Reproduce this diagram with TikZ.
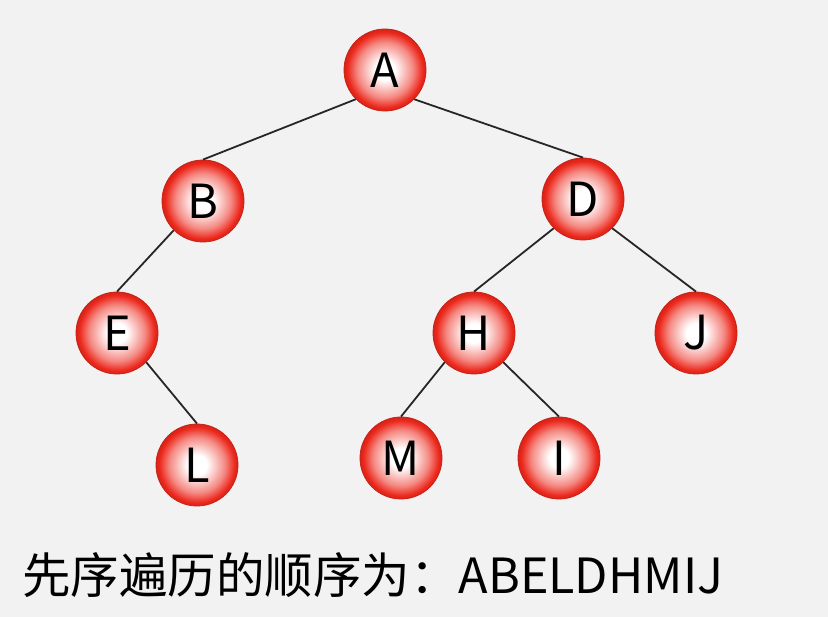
\documentclass[tikz,border=0pt]{standalone}
\usepackage{fontspec}
\setmainfont{Noto Sans CJK SC}
\definecolor{ballred}{RGB}{236,40,28}
\definecolor{bgray}{RGB}{242,242,242}
\pgfdeclareradialshading{ball}{\pgfpoint{0bp}{0bp}}{color(0bp)=(white); color(6bp)=(white); color(17bp)=(ballred!55!white); color(23bp)=(ballred); color(25bp)=(ballred!90!black); color(50bp)=(ballred!90!black)}
\tikzstyle{vertex} = [circle, minimum size=82pt, inner sep=0pt, shading=ball, draw=ballred!85!black, line width=0.8pt, font={\fontsize{47pt}{47pt}\selectfont}]
\tikzstyle{branch} = [black!85, line width=1.8pt]

\begin{document}
\begin{tikzpicture}[x=1pt,y=-1pt]
    \fill[bgray] (0,0) rectangle (828,617);
    \useasboundingbox (0,0) rectangle (828,617);
    \node[vertex](A) at (385,70){A};
    \node[vertex](B) at (203,201){B};
    \node[vertex](D) at (583,199){D};
    \node[vertex](E) at (117,333){E};
    \node[vertex](H) at (474,333){H};
    \node[vertex](J) at (696,333){J};
    \node[vertex](L) at (197,465){L};
    \node[vertex](M) at (401,458){M};
    \node[vertex](I) at (559,458){I};
    \draw[branch](A.south west)--(B.north);
    \draw[branch](A.south east)--(D.north);
    \draw[branch](B.south west)--(E.north);
    \draw[branch](E.south east)--(L.north);
    \draw[branch](D.south west)--(H.north);
    \draw[branch](D.south east)--(J.north);
    \draw[branch](H.south west)--(M.north);
    \draw[branch](H.south east)--(I.north);
    \node[anchor=west, inner sep=0pt, font={\fontsize{48.5pt}{48.5pt}\selectfont}](order) at (22,575){先序遍历的顺序为：ABELDHMIJ};
  \end{tikzpicture}
\end{document}
